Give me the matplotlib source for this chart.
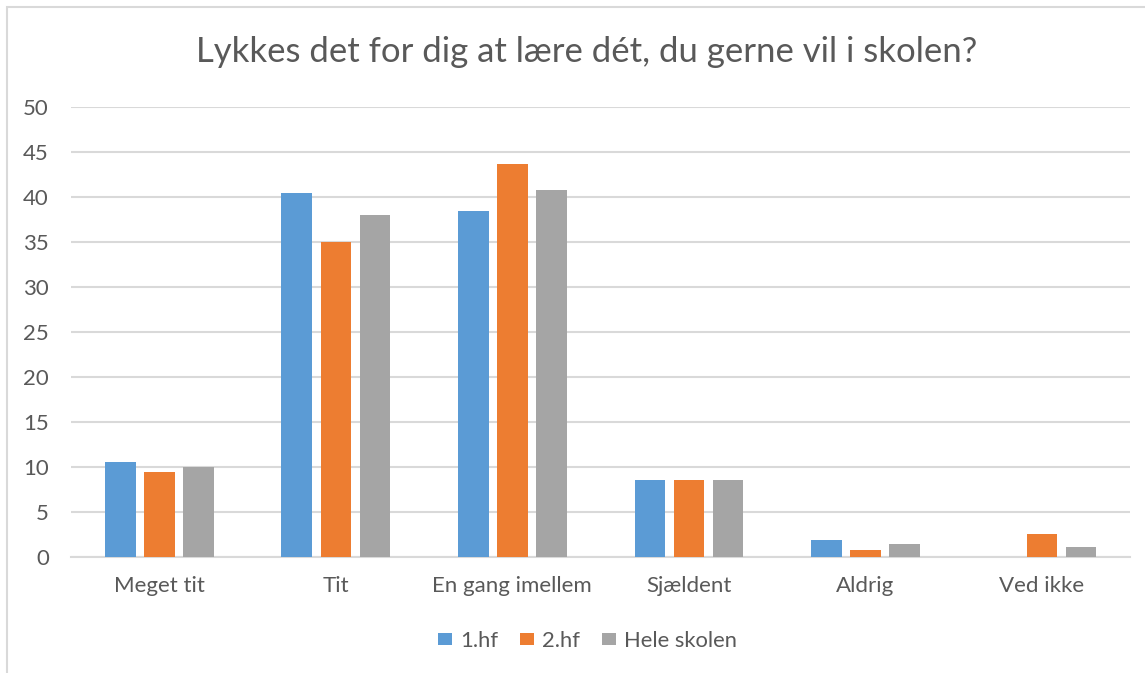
import matplotlib.pyplot as plt
import numpy as np
from matplotlib.patches import Rectangle

# Data
categories = ['Meget tit', 'Tit', 'En gang imellem', 'Sjældent', 'Aldrig', 'Ved ikke']
hf1 = [10.5, 40.4, 38.4, 8.5, 1.9, 0.0]
hf2 = [9.4, 35.0, 43.6, 8.5, 0.8, 2.5]
hele = [10.0, 38.0, 40.7, 8.5, 1.4, 1.1]
series = ['1.hf', '2.hf', 'Hele skolen']
colors = ['#5B9BD5', '#ED7D31', '#A5A5A5']

plt.rcParams['font.family'] = ['Lato', 'DejaVu Sans']
text_color = '#595959'
grid_color = '#D9D9D9'

fig = plt.figure(figsize=(11.45, 6.73), dpi=100)
ax = fig.add_axes([0.062, 0.1724, 0.925, 0.6691])

x = np.arange(len(categories))
width = 0.173
step = 0.221
for i, (vals, name, c) in enumerate(zip([hf1, hf2, hele], series, colors)):
    ax.bar(x + (i - 1) * step, vals, width, color=c, label=name, zorder=3)

ax.set_xlim(-0.5, len(categories) - 0.5)
ax.set_ylim(0, 50)
ax.set_yticks(range(0, 51, 5))
ax.set_xticks(x)
ax.set_xticklabels(categories)
ax.grid(axis='y', color=grid_color, linewidth=1.5, zorder=0)
ax.tick_params(axis='both', length=0, labelsize=16, colors=text_color)
ax.tick_params(axis='y', pad=16)
ax.tick_params(axis='x', pad=14)
for s in ['top', 'right', 'left']:
    ax.spines[s].set_visible(False)
ax.spines['bottom'].set_color(grid_color)
ax.spines['bottom'].set_linewidth(1.5)

fig.text(0.5127, 0.923, 'Lykkes det for dig at lære dét, du gerne vil i skolen?',
         ha='center', va='center', fontsize=25, color=text_color)

fig.legend(loc='center', bbox_to_anchor=(0.513, 0.0475), ncol=3, frameon=False,
           fontsize=15.8, labelcolor=text_color, handlelength=0.65, handleheight=0.45,
           handletextpad=0.35, columnspacing=1.0)

# chart area border
fig.patches.append(Rectangle((7 / 1145, -0.1), 1.2, 1.1 - 7 / 673, transform=fig.transFigure,
                             fill=False, edgecolor=grid_color, linewidth=1.5))

plt.savefig('out.png', dpi=100)
